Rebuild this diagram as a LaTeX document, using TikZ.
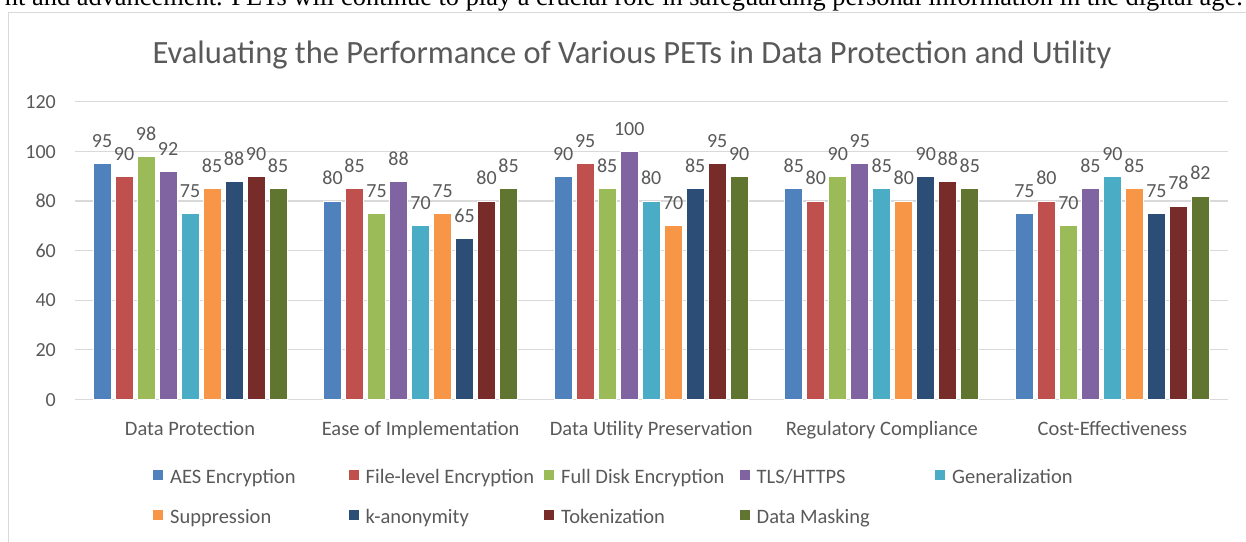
\documentclass[tikz,border=0pt]{standalone}
\usepackage{fontspec}
\setmainfont{Carlito}
\newfontfamily\serifbody{Liberation Serif}
\usetikzlibrary{positioning}

\definecolor{c1}{HTML}{4F81BD}
\definecolor{c2}{HTML}{C0504D}
\definecolor{c3}{HTML}{9BBB59}
\definecolor{c4}{HTML}{8064A2}
\definecolor{c5}{HTML}{4BACC6}
\definecolor{c6}{HTML}{F79646}
\definecolor{c7}{HTML}{2C4D75}
\definecolor{c8}{HTML}{772C2A}
\definecolor{c9}{HTML}{5F7530}
\definecolor{txtgray}{HTML}{595959}
\definecolor{linegray}{HTML}{D9D9D9}

\begin{document}
\begin{tikzpicture}[x=1pt, y=-1pt,
	barbox/.style = {draw=white, line width=0.7pt},
	vallabel/.style = {text=txtgray, anchor=base, inner sep=0pt, font=\fontsize{20}{20}\selectfont},
	ticklabel/.style = {text=txtgray, anchor=base east, inner sep=0pt, font=\fontsize{20}{20}\selectfont},
	catlabel/.style = {text=txtgray, anchor=base, inner sep=0pt, font=\fontsize{20.5}{22}\selectfont},
	keylabel/.style = {text=txtgray, anchor=base west, inner sep=0pt, font=\fontsize{20.5}{22}\selectfont}]
	\clip (0,0) rectangle (1246,541);

	%% Running text above the chart
	\node[anchor=base east, inner sep=0pt, font=\serifbody\fontsize{26.4}{28}\selectfont] (line) at (1243,5.5)
		{nt and advancement. PETs will continue to play a crucial role in safeguarding personal information in the digital age.};

	%% Frame and title
	\draw[linegray, line width=1.5pt] (8.5,545) |- (1250,12.5);
	\node[text=txtgray, anchor=base, inner sep=0pt, font=\fontsize{32.5}{34}\selectfont] (title) at (632,63.3)
		{Evaluating the Performance of Various PETs in Data Protection and Utility};

	%% Grid
	\foreach \g in {0,20,...,120} {
		\draw[linegray, line width=1.2pt] (75,{399.3-2.48*\g}) -- (1228,{399.3-2.48*\g});
		\node[ticklabel] (t\g) at (56,{406-2.48*\g}) {\g};
	}

	%% Bars
	\foreach \cat/\vals [count=\c from 0] in {
		Data Protection/{95,90,98,92,75,85,88,90,85},
		Ease of Implementation/{80,85,75,88,70,75,65,80,85},
		Data Utility Preservation/{90,95,85,100,80,70,85,95,90},
		Regulatory Compliance/{85,80,90,95,85,80,90,88,85},
		Cost-Effectiveness/{75,80,70,85,90,85,75,78,82}} {
		\pgfmathsetmacro{\cx}{190+230.6*\c}
		\node[catlabel] (cat\c) at (\cx,435) {\cat};
		\foreach \v [count=\i] in \vals {
			\pgfmathsetmacro{\bx}{\cx+22*(\i-5)}
			\pgfmathsetmacro{\by}{399.3-2.48*\v}
			\path[barbox, fill=c\i] (\bx-9,399.3) rectangle (\bx+9,\by);
			\node[vallabel] (v\c\i) at (\bx,\by-16) {\v};
		}
	}

	%% Legend
	\foreach \name [count=\i from 0] in {AES Encryption, File-level Encryption, Full Disk Encryption, TLS/HTTPS, Generalization,
		Suppression, k-anonymity, Tokenization, Data Masking} {
		\pgfmathtruncatemacro{\col}{mod(\i,5)}
		\pgfmathtruncatemacro{\row}{\i/5}
		\pgfmathtruncatemacro{\k}{\i+1}
		\pgfmathsetmacro{\kx}{153+195.5*\col}
		\pgfmathsetmacro{\ky}{483+40*\row}
		\fill[c\k] (\kx,\ky-13) rectangle ++(10,10);
		\node[keylabel] (key\k) at (\kx+17,\ky) {\name};
	}
\end{tikzpicture}
\end{document}
